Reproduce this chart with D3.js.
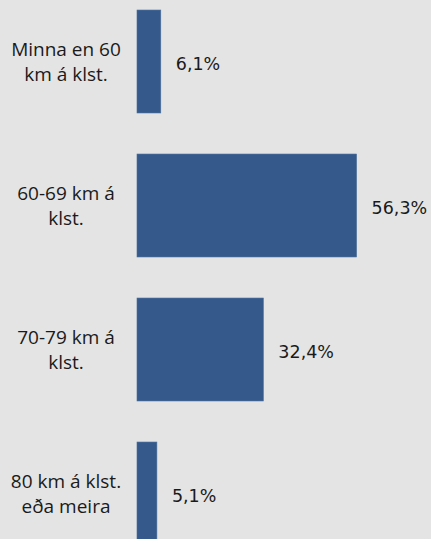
<!DOCTYPE html>
<html>
<head>
    <meta charset="utf-8">
    <script src="https://cdnjs.cloudflare.com/ajax/libs/d3/7.8.5/d3.min.js"></script>
    <style>
        body { margin: 0; background-color: #e4e4e4; overflow: hidden; }
    </style>
</head>
<body>
    <script>
        // data
        var categories = ["Minna en 60 km á klst.", "60-69 km á klst.", "70-79 km á klst.", "80 km á klst. eða meira"];
        var labelLines = [["Minna en 60", "km á klst."], ["60-69 km á", "klst."], ["70-79 km á", "klst."], ["80 km á klst.", "eða meira"]];
        var values = [6.1, 56.3, 32.4, 5.1];

        let width = 431;
        let height = 539;

        let svg = d3.select("body")
            .append("svg")
            .attr("width", width)
            .attr("height", height);

        svg.append("rect")
            .attr("width", width)
            .attr("height", height)
            .attr("fill", "#e4e4e4");

        var x = d3.scaleLinear()
            .domain([0, 100])
            .range([137, 527]);

        var y = d3.scaleBand()
            .domain(categories)
            .range([-10.5, 565.5])
            .paddingInner(0.285)
            .paddingOuter(0.1425);

        // bars
        svg.selectAll("rect.bar")
            .data(values)
            .enter()
            .append("rect")
            .attr("class", "bar")
            .attr("x", x(0))
            .attr("y", (d, i) => y(categories[i]))
            .attr("width", d => x(d) - x(0))
            .attr("height", y.bandwidth())
            .attr("fill", "#34598a")
            .attr("stroke", "#4b6f9b")
            .attr("stroke-width", 0.6);

        // value labels
        svg.selectAll("text.value")
            .data(values)
            .enter()
            .append("text")
            .attr("class", "value")
            .attr("x", d => x(d) + 15)
            .attr("y", (d, i) => y(categories[i]) + y.bandwidth() / 2 + 8.5)
            .style("font-family", "DejaVu Sans")
            .style("font-size", "17.5px")
            .attr("fill", "#1a1a1a")
            .text(d => d.toFixed(1).replace(".", ",") + "%");

        // category labels, two lines each
        var cat = svg.selectAll("text.cat")
            .data(categories)
            .enter()
            .append("text")
            .attr("class", "cat")
            .attr("text-anchor", "middle")
            .style("font-family", "Open Sans")
            .style("font-size", "19px")
            .attr("fill", "#1a1a1a");

        cat.each(function(d, i) {
            var cy = y(d) + y.bandwidth() / 2;
            d3.select(this).selectAll("tspan")
                .data(labelLines[i])
                .enter()
                .append("tspan")
                .attr("x", 66)
                .attr("y", (l, j) => cy - 5.5 + j * 25)
                .text(l => l);
        });
    </script>
</body>
</html>
